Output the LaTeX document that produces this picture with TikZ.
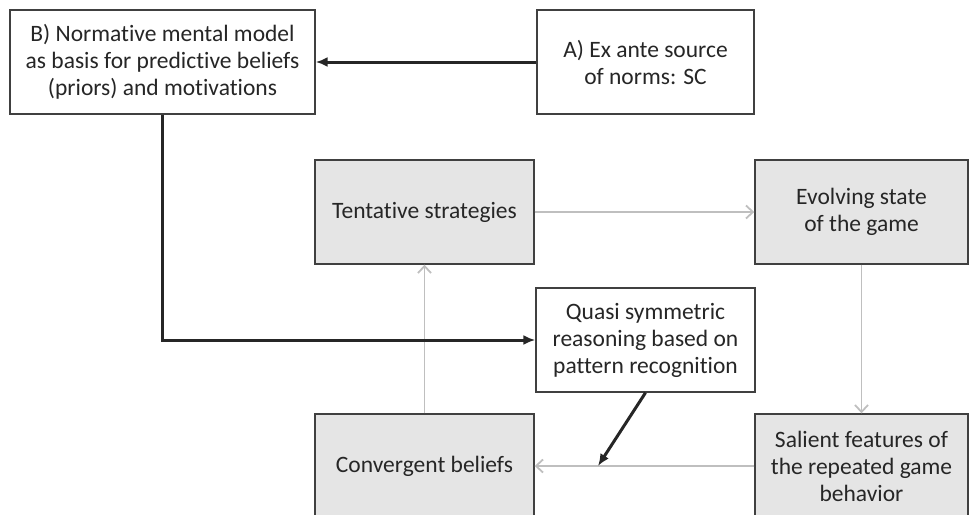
\documentclass[tikz,border=0pt]{standalone}
\usepackage{fontspec}
\setmainfont{Carlito}[Ligatures=NoCommon]
\usetikzlibrary{arrows.meta}
\begin{document}
\begin{tikzpicture}
[x=1pt,y=-1pt,
  whitebox/.style={shape=rectangle,draw=black!75,line width=1.4pt,fill=white,inner sep=0pt,%
    minimum height=104pt,align=center,text=black!85,font=\fontsize{23.5}{27}\selectfont},%
  greybox/.style={whitebox,fill=gray!20},%
  darkline/.style={-{Latex[length=12pt,width=10pt]},line width=3pt,draw=black!85},%
  greyline/.style={-{Straight Barb[length=7pt,width=13pt]},line width=1.8pt,draw=black!25}]
\useasboundingbox (0,0) rectangle (969,514);
\clip (0,0) rectangle (969,514);
%% boxes
\foreach \nodename/\x/\y/\w/\boxtype/\boxtext in {
  B/162.5/62/305/whitebox/{B) Normative mental model\\as basis for predictive beliefs\\(priors) and motivations},
  A/645.5/62/217/whitebox/{A) Ex ante source\\of norms: SC},
  Tent/424.5/212/219/greybox/{Tentative strategies},
  Evol/861.5/212/213/greybox/{Evolving state\\of the game},
  Q/645.5/340/219/whitebox/{Quasi symmetric\\reasoning based on\\pattern recognition},
  Conv/424.5/466/219/greybox/{Convergent beliefs},
  Sal/861.5/466/213/greybox/{Salient features of\\the repeated game\\behavior}}
{
  \node (\nodename) at (\x,\y) [\boxtype,minimum width=\w pt] {\boxtext};
}
%% game loop
\draw [greyline] (Tent) -- (Evol);
\draw [greyline] (Evol) -- (Sal);
\draw [greyline] (Sal) -- (Conv);
\draw [greyline] (Conv) -- (Tent);
%% norms
\coordinate (hit) at (598,466);
\draw [darkline] (A) -- (B);
\draw [darkline] (B.south) |- (Q.west);
\draw [darkline] (Q.south) -- (hit);
\end{tikzpicture}
\end{document}
